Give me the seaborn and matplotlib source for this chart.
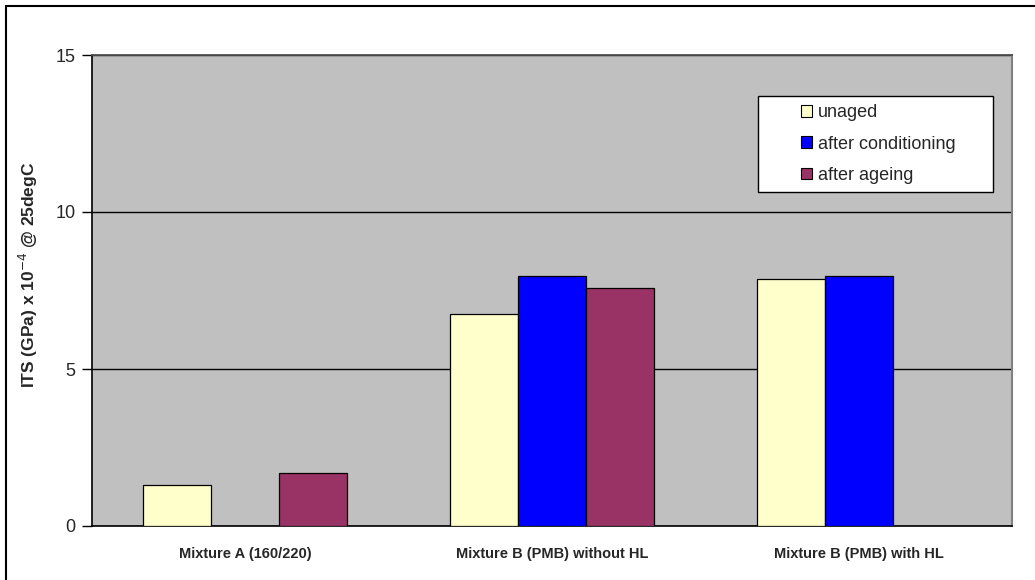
import numpy as np
import pandas as pd
import matplotlib
matplotlib.use("Agg")
import matplotlib.pyplot as plt
from matplotlib.lines import Line2D
from matplotlib.patches import Rectangle
import seaborn as sns

categories = ["Mixture A (160/220)", "Mixture B (PMB) without HL", "Mixture B (PMB) with HL"]
series = ["unaged", "after conditioning", "after ageing"]
unaged = [1.31, 6.75, 7.87]
after_conditioning = [np.nan, 7.96, 7.96]
after_ageing = [1.69, 7.58, np.nan]
colors = ["#FFFFCC", "#0000FF", "#993366"]
yticks = [0, 5, 10, 15]

df = pd.DataFrame({
    "category": categories * 3,
    "series": [series[0]] * 3 + [series[1]] * 3 + [series[2]] * 3,
    "value": unaged + after_conditioning + after_ageing,
})

sns.set_theme(style="white")
plt.rcParams["font.family"] = ["Liberation Sans", "DejaVu Sans"]

fig = plt.figure(figsize=(10.35, 5.8), dpi=100)
ax = fig.add_axes([92 / 1035, 1 - 526 / 580, 920 / 1035, 471 / 580])
ax.set_facecolor("#C0C0C0")

sns.barplot(data=df, x="category", y="value", hue="series", order=categories,
            hue_order=series, palette=colors, width=0.665, saturation=1,
            edgecolor="black", linewidth=0.9, ax=ax, zorder=3, errorbar=None)

ax.set_ylim(0, 15)
ax.set_xlim(-0.5, 2.5)
ax.set_yticks(yticks)
ax.set_yticklabels([str(t) for t in yticks], fontsize=13)
ax.tick_params(axis="y", direction="out", length=7, width=1, color="black", pad=5, left=True)
ax.tick_params(axis="x", length=0, pad=15)
for lab in ax.get_xticklabels():
    lab.set_fontweight("bold")
    lab.set_fontsize(10.5)
ax.set_xlabel("")
ax.set_ylabel("ITS (GPa) x 10$^{-4}$ @ 25degC", fontsize=12.5, fontweight="bold")
ax.yaxis.set_label_coords(-0.0565, 0.533)

ax.yaxis.grid(True, color="black", linewidth=1)
ax.set_axisbelow(True)
for s in ["left", "bottom"]:
    ax.spines[s].set_color("black")
    ax.spines[s].set_linewidth(1.2)
ax.spines["top"].set_color("#505050")
ax.spines["top"].set_linewidth(1.3)
ax.spines["right"].set_color("#808080")
ax.spines["right"].set_linewidth(1.5)

# legend
handles, labels = ax.get_legend_handles_labels()
if ax.legend_:
    ax.legend_.remove()
ax.add_patch(Rectangle((0.724, 0.709), 0.255, 0.204, transform=ax.transAxes,
                       facecolor="white", edgecolor="black", linewidth=1, zorder=5))
leg = ax.legend(handles, labels, loc="upper left", bbox_to_anchor=(0.771, 0.895),
                frameon=False, fontsize=13, handlelength=0.6, handleheight=0.6,
                handletextpad=0.3, labelspacing=0.78, borderpad=0, borderaxespad=0)
leg.set_zorder(6)
for h in leg.legend_handles:
    h.set_edgecolor("black")
    h.set_linewidth(0.8)

# figure border (top and left visible)
fig.add_artist(Line2D([6 / 1035, 6 / 1035], [0, 1 - 6 / 580], transform=fig.transFigure,
                      color="black", linewidth=1.5))
fig.add_artist(Line2D([6 / 1035, 1], [1 - 6 / 580, 1 - 6 / 580], transform=fig.transFigure,
                      color="black", linewidth=1.5))

fig.savefig("out.png", dpi=100)
